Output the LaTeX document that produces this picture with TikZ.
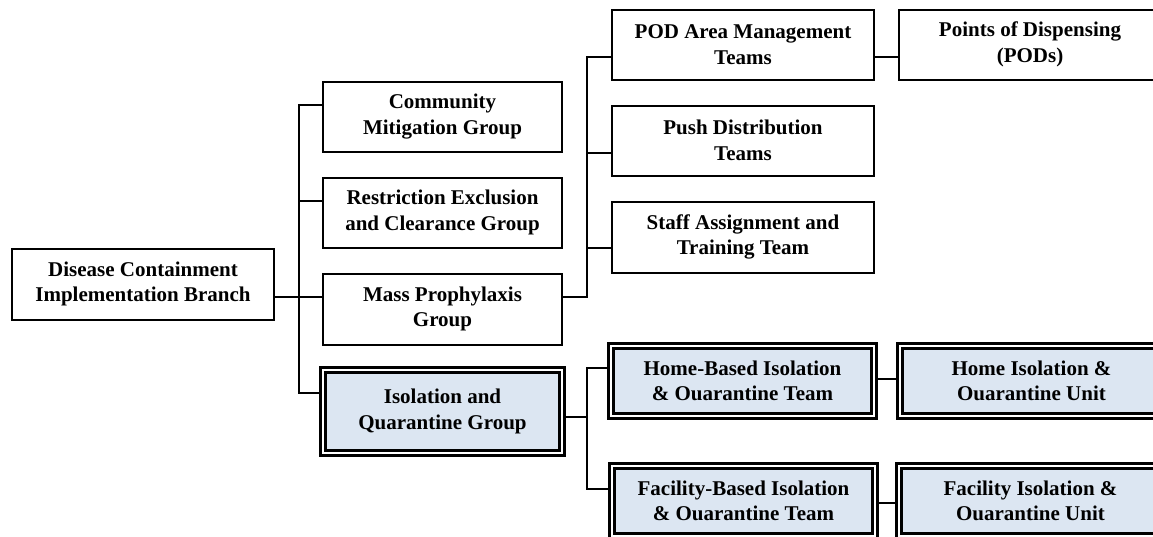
\documentclass[tikz,border=0pt]{standalone}
\usepackage{fontspec}
\setmainfont{Liberation Serif}
\definecolor{isofill}{RGB}{220,230,242}
\tikzset{
  unitbox/.style={draw,line width=2pt,minimum height=70pt,align=center,inner sep=0pt,
    font=\bfseries\fontsize{21}{25.5}\selectfont},
  grpbox/.style={unitbox,minimum width=239pt},
  teambox/.style={unitbox,minimum width=262pt},
  dblbox/.style={unitbox,line width=2.6pt,double,double distance=2.4pt,fill=isofill},
  link/.style={line width=2pt}
}
\begin{document}
\begin{tikzpicture}[x=1pt,y=-1pt]
            \useasboundingbox (0,0) rectangle (1153,536);
            \clip (0,0) rectangle (1153,536);
            \node[teambox,minimum height=71pt] (root) at (143,284) {Disease Containment\\Implementation Branch};
            \node[grpbox] (comm) at (442.5,116.5) {Community\\Mitigation Group};
            \node[grpbox] (restr) at (442.5,212.5) {Restriction Exclusion\\and Clearance Group};
            \node[grpbox,minimum height=71pt] (mass) at (442.5,309) {Mass Prophylaxis\\Group};
            \node[dblbox,minimum width=239.4pt,minimum height=83.4pt] (iso) at (442.5,411.5) {Isolation and\\Quarantine Group};
            \node[teambox] (pod) at (743,44.5) {POD Area Management\\Teams};
            \node[teambox] (push) at (743,140.5) {Push Distribution\\Teams};
            \node[teambox,minimum height=71pt] (staff) at (743,237) {Staff Assignment and\\Training Team};
            \node[teambox] (pods) at (1030,44.5) {Points of Dispensing\\(PODs)};
            \node[dblbox,minimum width=263.4pt,minimum height=70.4pt] (home) at (742.5,381) {Home-Based Isolation\\\& Ouarantine Team};
            \node[dblbox,minimum width=263.4pt,minimum height=70.4pt] (fac) at (743.5,501) {Facility-Based Isolation\\\& Ouarantine Team};
            \node[dblbox,minimum width=263.4pt,minimum height=70.4pt] (homeunit) at (1031.5,381) {Home Isolation \&\\Ouarantine Unit};
            \node[dblbox,minimum width=263.4pt,minimum height=70.4pt] (facunit) at (1030.5,501) {Facility Isolation \&\\Ouarantine Unit};
            \coordinate (gbus) at (299,0);
            \coordinate (tbus) at (587,0);
            % branch to groups
            \draw[link] ([yshift=12pt]mass.west -| root.east) -- ([yshift=12pt]mass.west);
            \draw[link] ([yshift=12pt]comm.west) -- ([yshift=12pt]comm.west -| gbus) -- ([yshift=18.5pt]iso.west -| gbus) -- ([yshift=18.5pt]iso.west);
            \draw[link] ([yshift=12pt]restr.west) -- ([yshift=12pt]restr.west -| gbus);
            % groups to teams
            \draw[link] ([yshift=12pt]mass.east) -- ([yshift=12pt]mass.east -| tbus) -- ([yshift=-12.5pt]pod.west -| tbus) -- ([yshift=-12.5pt]pod.west);
            \draw[link] ([yshift=-12.5pt]push.west) -- ([yshift=-12.5pt]push.west -| tbus);
            \draw[link] ([yshift=-11pt]staff.west) -- ([yshift=-11pt]staff.west -| tbus);
            \draw[link] ([yshift=-5.5pt]iso.east) -- ([yshift=-5.5pt]iso.east -| tbus);
            \draw[link] ([yshift=13pt]home.west) -- ([yshift=13pt]home.west -| tbus) -- ([yshift=12pt]fac.west -| tbus) -- ([yshift=12pt]fac.west);
            % teams to units
            \draw[link] ([yshift=-12.5pt]pod.east) -- ([yshift=-12.5pt]pod.east -| pods.west);
            \draw[line width=1.2pt] ([yshift=2pt]home.east) -- ([yshift=2pt]home.east -| homeunit.west);
            \draw[line width=1.2pt] ([yshift=-2pt]fac.east) -- ([yshift=-2pt]fac.east -| facunit.west);
\end{tikzpicture}
\end{document}
